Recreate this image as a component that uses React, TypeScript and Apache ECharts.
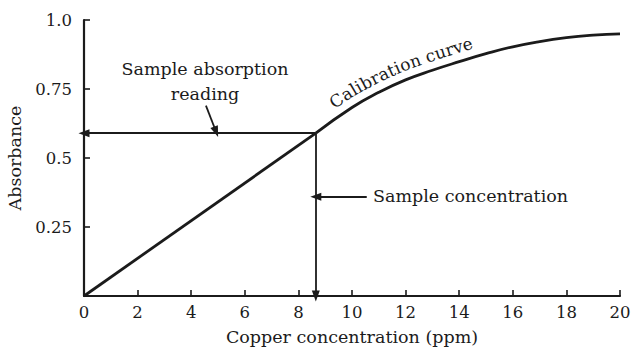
import React, { useEffect, useRef } from "react";
import * as echarts from "echarts";

// Sample reading
const SAMPLE_CONC = 8.65;
const SAMPLE_ABS = 0.59;

// Linear (Beer–Lambert) region of the calibration, from the origin to the sample point
const LINEAR_X = [0, SAMPLE_CONC];
const LINEAR_Y = [0, SAMPLE_ABS];

// Curved region of the calibration at higher copper concentrations
const CURVE_X = [SAMPLE_CONC, 10, 11, 12, 13, 14, 15, 16, 17, 18, 19, 20];
const CURVE_Y = [SAMPLE_ABS, 0.683, 0.738, 0.783, 0.818, 0.849, 0.878, 0.903, 0.922, 0.936, 0.945, 0.95];

// Leader arrows for the two callouts: [fromX, fromY, toX, toY] in data units
const READING_POINTER = [4.55, 0.69, 4.93, 0.595];
const CONC_POINTER = [10.55, 0.36, SAMPLE_CONC, 0.36];

const FONT = '"DejaVu Serif", "Liberation Serif", serif';
const INK = "#1b1b1b";
const TEXT_SIZE = 17.5;
const TICK_SIZE = 16.5;

const CURVE_TEXT = "Calibration curve";

function zip(xs: number[], ys: number[]) {
  return xs.map((x, i) => [x, ys[i]]);
}

// Catmull-Rom sampling of a pixel polyline, used only to lay text along the curve
function sampleSpline(pts: number[][], steps = 24) {
  const out: number[][] = [];
  for (let i = 0; i < pts.length - 1; i++) {
    const p0 = pts[Math.max(0, i - 1)];
    const p1 = pts[i];
    const p2 = pts[i + 1];
    const p3 = pts[Math.min(pts.length - 1, i + 2)];
    for (let k = 0; k < steps; k++) {
      const t = k / steps;
      const t2 = t * t;
      const t3 = t2 * t;
      const f = (a: number, b: number, c: number, d: number) =>
        0.5 * (2 * b + (-a + c) * t + (2 * a - 5 * b + 4 * c - d) * t2 + (-a + 3 * b - 3 * c + d) * t3);
      out.push([f(p0[0], p1[0], p2[0], p3[0]), f(p0[1], p1[1], p2[1], p3[1])]);
    }
  }
  out.push(pts[pts.length - 1]);
  return out;
}

function curvedText(chart: echarts.ECharts, text: string, startPx: number, offset: number, fontSize: number) {
  const px = zip(CURVE_X, CURVE_Y).map((p) => chart.convertToPixel({ gridIndex: 0 }, p) as number[]);
  const poly = sampleSpline(px);
  const cum: number[] = [0];
  for (let i = 1; i < poly.length; i++) {
    cum.push(cum[i - 1] + Math.hypot(poly[i][0] - poly[i - 1][0], poly[i][1] - poly[i - 1][1]));
  }
  const at = (s: number) => {
    let i = 1;
    while (i < cum.length - 1 && cum[i] < s) i++;
    const seg = cum[i] - cum[i - 1] || 1;
    const u = (s - cum[i - 1]) / seg;
    const a = poly[i - 1];
    const b = poly[i];
    const tx = (b[0] - a[0]) / seg;
    const ty = (b[1] - a[1]) / seg;
    return { x: a[0] + (b[0] - a[0]) * u, y: a[1] + (b[1] - a[1]) * u, tx, ty };
  };
  // arc length where the curve reaches the starting pixel column
  let s = 0;
  for (let i = 0; i < poly.length; i++) {
    if (poly[i][0] >= startPx) {
      s = cum[i];
      break;
    }
  }
  const ctx = document.createElement("canvas").getContext("2d")!;
  ctx.font = `${fontSize}px ${FONT}`;
  const els: any[] = [];
  for (const ch of text) {
    const w = ctx.measureText(ch).width;
    const p = at(s + w / 2);
    const nx = p.ty;
    const ny = -p.tx;
    els.push({
      type: "text",
      x: p.x + nx * offset,
      y: p.y + ny * offset,
      rotation: Math.atan2(-p.ty, p.tx),
      silent: true,
      style: {
        text: ch,
        x: 0,
        y: 0,
        fill: INK,
        fontSize,
        fontFamily: FONT,
        align: "center",
        verticalAlign: "bottom",
        textAlign: "center",
        textVerticalAlign: "bottom",
      },
    });
    s += w;
  }
  return els;
}

function arrowLine(from: number[], to: number[]) {
  return [
    { coord: from, symbol: "none" },
    { coord: to, symbol: "triangle", symbolSize: [8, 11] },
  ];
}

export default function App() {
  const ref = useRef<HTMLDivElement>(null);

  useEffect(() => {
    if (!ref.current) return;
    const chart = echarts.init(ref.current, undefined, { renderer: "svg" });
    const nameText = { color: INK, fontFamily: FONT, fontSize: TEXT_SIZE };
    const tickText = { color: INK, fontFamily: FONT, fontSize: TICK_SIZE };
    chart.setOption({
      animation: false,
      backgroundColor: "#ffffff",
      grid: { left: 84, right: 11, top: 20, bottom: 52, containLabel: false, outerBoundsMode: "none" },
      xAxis: {
        type: "value",
        min: 0,
        max: 20,
        interval: 2,
        name: "Copper concentration (ppm)",
        nameLocation: "middle",
        nameGap: 32,
        nameTextStyle: nameText,
        axisLine: { show: true, onZero: false, lineStyle: { color: INK, width: 2.2 } },
        axisTick: { show: true, inside: true, length: 6, lineStyle: { color: INK, width: 1.6 } },
        axisLabel: { ...tickText, margin: 8 },
        splitLine: { show: false },
      },
      yAxis: {
        type: "value",
        min: 0,
        max: 1,
        interval: 0.25,
        name: "Absorbance",
        nameLocation: "middle",
        nameGap: 54,
        nameTextStyle: nameText,
        axisLine: { show: true, onZero: false, lineStyle: { color: INK, width: 2.2 } },
        axisTick: { show: true, inside: true, length: 6, lineStyle: { color: INK, width: 1.6 } },
        axisLabel: {
          ...tickText,
          margin: 12,
          formatter: (v: number) => (v === 0 ? "" : v === 1 ? "1.0" : String(v)),
        },
        splitLine: { show: false },
      },
      series: [
        {
          type: "line",
          data: zip(LINEAR_X, LINEAR_Y),
          showSymbol: false,
          silent: true,
          lineStyle: { color: INK, width: 2.8 },
          markLine: {
            silent: true,
            animation: false,
            label: { show: false },
            lineStyle: { color: INK, width: 1.8, type: "solid" },
            data: [
              arrowLine([SAMPLE_CONC, SAMPLE_ABS], [0, SAMPLE_ABS]),
              arrowLine([SAMPLE_CONC, SAMPLE_ABS], [SAMPLE_CONC, 0]),
              arrowLine(READING_POINTER.slice(0, 2), READING_POINTER.slice(2)),
              arrowLine(CONC_POINTER.slice(0, 2), CONC_POINTER.slice(2)),
            ],
          },
        },
        {
          type: "line",
          data: zip(CURVE_X, CURVE_Y),
          smooth: 0.5,
          showSymbol: false,
          silent: true,
          lineStyle: { color: INK, width: 2.8 },
        },
      ],
    });

    const labelStyle = { fill: INK, fontFamily: FONT, fontSize: TEXT_SIZE };
    chart.setOption({
      graphic: [
        {
          type: "text",
          x: 205,
          y: 81,
          silent: true,
          style: {
            ...labelStyle,
            text: "Sample absorption\nreading",
            lineHeight: 25,
            align: "center",
            verticalAlign: "middle",
            textAlign: "center",
            textVerticalAlign: "middle",
          },
        },
        {
          type: "text",
          x: 373,
          y: 196,
          silent: true,
          style: {
            ...labelStyle,
            text: "Sample concentration",
            align: "left",
            verticalAlign: "middle",
            textAlign: "left",
            textVerticalAlign: "middle",
          },
        },
        ...curvedText(chart, CURVE_TEXT, 338, 6, 17),
      ],
    });

    return () => chart.dispose();
  }, []);

  return <div ref={ref} style={{ width: 631, height: 348, position: "absolute", left: 0, top: 0 }} />;
}
